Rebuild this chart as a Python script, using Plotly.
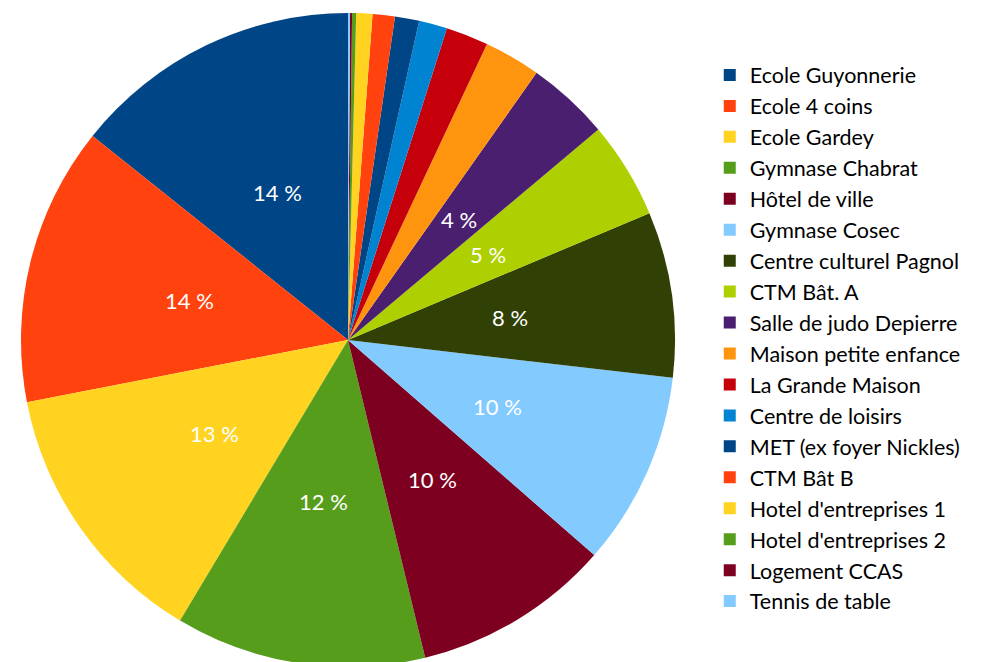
import math
import plotly.graph_objects as go

labels = ["Ecole Guyonnerie", "Ecole 4 coins", "Ecole Gardey", "Gymnase Chabrat",
          "Hôtel de ville", "Gymnase Cosec", "Centre culturel Pagnol", "CTM Bât. A",
          "Salle de judo Depierre", "Maison petite enfance", "La Grande Maison",
          "Centre de loisirs", "MET (ex foyer Nickles)", "CTM Bât B",
          "Hotel d'entreprises 1", "Hotel d'entreprises 2", "Logement CCAS", "Tennis de table"]
values = [14.3, 13.8, 13.4, 12.4, 9.8, 9.6, 8.2, 4.8, 4.1, 2.8, 2.1, 1.4, 1.2, 1.1, 0.8, 0.2, 0.1, 0.1]
palette = ["#004586", "#ff420e", "#ffd320", "#579d1c", "#7e0021", "#83caff",
           "#314004", "#aecf00", "#4b1f6f", "#ff950e", "#c5000b", "#0084d1"]
colors = [palette[i % len(palette)] for i in range(len(labels))]

W, H = 987, 662
dom_x = [13 / W, 667 / W]
dom_y = [3 / H, 657 / H]

total = sum(values)
first_angle = 360.0 * values[0] / total

fig = go.Figure(go.Pie(
    labels=labels, values=values, textinfo="none",
    sort=False, direction="counterclockwise", rotation=-first_angle,
    marker=dict(colors=colors, line=dict(width=0)),
    hoverinfo="label+percent",
    domain=dict(x=dom_x, y=dom_y),
))

# percentage labels placed at half radius, mid-angle of each slice (LibreOffice style)
cx = (dom_x[0] + dom_x[1]) / 2 * W
cy = (dom_y[0] + dom_y[1]) / 2 * H
R = min((dom_x[1] - dom_x[0]) * W, (dom_y[1] - dom_y[0]) * H) / 2
cum = 0.0
for v in values:
    p = v / total * 100
    mid = (cum + v / 2) / total * 2 * math.pi
    cum += v
    if p < 3.5:
        continue
    px = cx - 0.5 * R * math.sin(mid)
    py = cy + 0.5 * R * math.cos(mid)
    fig.add_annotation(x=px / W, y=py / H, xref="paper", yref="paper",
                       xanchor="center", yanchor="middle",
                       text=f"{round(p)} %", showarrow=False,
                       font=dict(color="white", size=22, family="Lato"))

fig.update_layout(
    width=W, height=H,
    margin=dict(l=0, r=0, t=0, b=0),
    paper_bgcolor="white", plot_bgcolor="white",
    font=dict(family="Lato", color="#000000"),
    showlegend=True,
    legend=dict(x=0.711, y=0.5008, xanchor="left", yanchor="middle",
                font=dict(size=21.5, family="Lato", color="black"),
                traceorder="normal", tracegroupgap=0, itemwidth=30),
)
fig.write_html("out.html")
